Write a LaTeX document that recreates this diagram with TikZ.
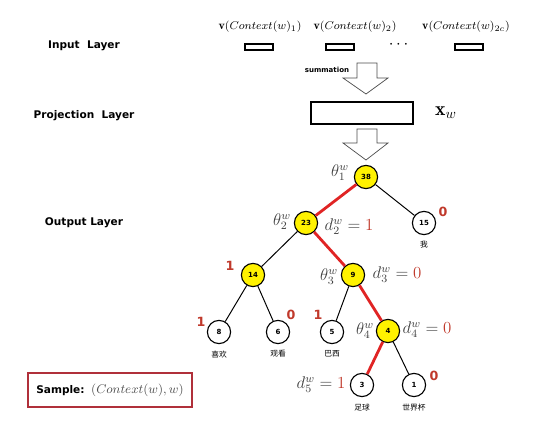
\documentclass[tikz,border=0pt]{standalone}
\usepackage{amsmath,amssymb}
\usepackage{fontspec}
\usepackage{tikz}
\usetikzlibrary{positioning}
\usepackage{xcolor}
\newfontfamily\lyrfont{DejaVu Sans}
\newfontfamily\cjk{Noto Sans CJK SC}
\definecolor{nodeyel}{HTML}{FFF200}
\definecolor{codered}{HTML}{C0392B}
\definecolor{pathred}{HTML}{E02424}
\definecolor{boxred}{HTML}{B0303A}

\begin{document}
\begin{tikzpicture}[x=0.025cm, y=-0.025cm, every node/.style={font=\tiny}]
\tikzset{hnode/.style={draw, circle, minimum size=0.58cm, fill=nodeyel, inner sep=0pt, line width=0.8pt, font=\fontsize{5}{6}\selectfont\bfseries\lyrfont}}
\tikzset{leaf/.style={hnode, fill=white}}
\tikzset{layer/.style={font=\fontsize{7.5}{9}\selectfont\bfseries\lyrfont}}
\tikzset{word/.style={font=\fontsize{5.5}{6}\selectfont\cjk}}
\tikzset{code/.style={text=codered, inner sep=0.5pt, font=\fontsize{9}{10}\selectfont\bfseries\lyrfont}}
\tikzset{mlbl/.style={inner sep=0.5pt, font=\fontsize{11.5}{13}\selectfont, text=black!75}}
\tikzset{inbox/.style={draw, line width=1.3pt, minimum width=0.68cm, minimum height=0.17cm, inner sep=0pt}}
\tikzset{hollow/.style={draw=black!70, line width=0.5pt, fill=white}}
\useasboundingbox (0,0) rectangle (554,434);

% layers
\node[layer] (inl) at (84,46) {Input\ \ Layer};
\node[layer] (prl) at (84,116) {Projection\ \ Layer};
\node[layer] (outl) at (84,223) {Output Layer};

% input vectors
\node[font=\fontsize{8.5}{10}\selectfont] (c1) at (260,27) {$\mathbf{v}(Context(w)_1)$};
\node[font=\fontsize{8.5}{10}\selectfont] (c2) at (355,27) {$\mathbf{v}(Context(w)_2)$};
\node[font=\fontsize{8.5}{10}\selectfont] (c3) at (466,27) {$\mathbf{v}(Context(w)_{2c})$};
\node[inbox] (v1) at (259,47) {};
\node[inbox] (v2) at (340,47) {};
\node[inbox] (v3) at (469,47) {};
\node (dots) at (400,45) {\large$\cdots$};

% summation arrow
\draw[hollow] (357,63) -- (377,63) -- (377,78) -- (388,78) -- (366,94) -- (343,78) -- (357,78) -- cycle;
\node[font=\fontsize{5}{6}\selectfont\bfseries\lyrfont] (sum) at (327,70) {summation};

% projection
\node[draw, line width=1.2pt, minimum width=2.55cm, minimum height=0.56cm, inner sep=0pt] (proj) at (362,113) {};
\node[font=\fontsize{14}{16}\selectfont] (xw) at (446,113) {$\mathbf{x}_w$};
\draw[hollow] (357,129) -- (377,129) -- (377,143) -- (388,143) -- (366,160) -- (343,143) -- (357,143) -- cycle;

% huffman tree
\node[hnode] (n38) at (366,177) {38};
\node[hnode] (n23) at (306,223) {23};
\node[leaf]  (n15) at (424,223) {15};
\node[hnode] (n14) at (253,275) {14};
\node[hnode] (n9)  at (353,275) {9};
\node[leaf]  (n8)  at (219,332) {8};
\node[leaf]  (n6)  at (278,332) {6};
\node[leaf]  (n5)  at (332,332) {5};
\node[hnode] (n4)  at (388,331) {4};
\node[leaf]  (n3)  at (362,385) {3};
\node[leaf]  (n1)  at (414,385) {1};

\draw[line width=0.7pt] (n38)--(n15); \draw[line width=0.7pt] (n23)--(n14);
\draw[line width=0.7pt] (n14)--(n8);  \draw[line width=0.7pt] (n14)--(n6);
\draw[line width=0.7pt] (n9)--(n5);   \draw[line width=0.7pt] (n4)--(n1);
\draw[pathred, line width=2pt] (n38)--(n23); \draw[pathred, line width=2pt] (n23)--(n9);
\draw[pathred, line width=2pt] (n9)--(n4);   \draw[pathred, line width=2pt] (n4)--(n3);

% words
\node[word, below=1pt of n15] (w15) {我};
\node[word, below=1pt of n8] (w8) {喜欢};
\node[word, below=1pt of n6] (w6) {观看};
\node[word, below=1pt of n5] (w5) {巴西};
\node[word, below=1pt of n3] (w3) {足球};
\node[word, below=1pt of n1] (w1) {世界杯};

% codes
\node[code] (k15) at (443,212) {0};
\node[code] (k14) at (230,266) {1};
\node[code] (k8)  at (201,322) {1};
\node[code] (k6)  at (291,315) {0};
\node[code] (k5)  at (318,315) {1};
\node[code] (k1)  at (434,376) {0};

% parameters
\node[mlbl] (t1) at (340,173) {$\theta_1^w$};
\node[mlbl] (t2) at (282,222) {$\theta_2^w$};
\node[mlbl] (t3) at (329,277) {$\theta_3^w$};
\node[mlbl] (t4) at (365,331) {$\theta_4^w$};
\node[mlbl] (d2) at (349,227) {$d_2^w=\textcolor{codered}{1}$};
\node[mlbl] (d3) at (397,275) {$d_3^w=\textcolor{codered}{0}$};
\node[mlbl] (d4) at (427,330) {$d_4^w=\textcolor{codered}{0}$};
\node[mlbl] (d5) at (321,385) {$d_5^w=\textcolor{codered}{1}$};

% sample
\node[draw=boxred, line width=1.2pt, minimum width=4.1cm, minimum height=0.85cm] (smp) at (110,390)
  {{\fontsize{7.5}{9}\selectfont\bfseries\lyrfont Sample:}\ \ {\fontsize{9}{10}\selectfont\color{black!70}$(Context(w),w)$}};
\end{tikzpicture}
\end{document}
